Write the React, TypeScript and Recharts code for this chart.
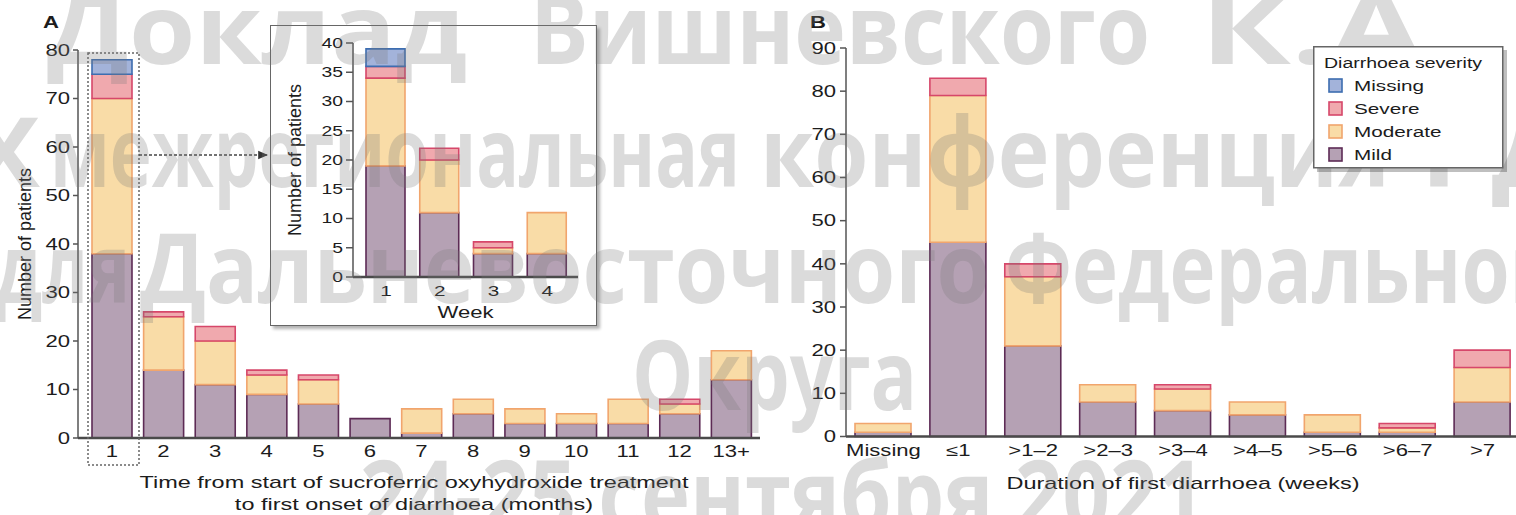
import React from "react";
import { BarChart, Bar, XAxis, YAxis, Label } from "recharts";

// Panel A: months from start of treatment to first diarrhoea
const months = ["1", "2", "3", "4", "5", "6", "7", "8", "9", "10", "11", "12", "13+"];
const monthMild = [38, 14, 11, 9, 7, 4, 1, 5, 3, 3, 3, 5, 12];
const monthModerate = [32, 11, 9, 4, 5, 0, 5, 3, 3, 2, 5, 2, 6];
const monthSevere = [5, 1, 3, 1, 1, 0, 0, 0, 0, 0, 0, 1, 0];
const monthMissing = [3, 0, 0, 0, 0, 0, 0, 0, 0, 0, 0, 0, 0];
const monthTicks = [0, 10, 20, 30, 40, 50, 60, 70, 80];

// Inset: first month split by week
const weeks = ["1", "2", "3", "4"];
const weekMild = [19, 11, 4, 4];
const weekModerate = [15, 9, 1, 7];
const weekSevere = [2, 2, 1, 0];
const weekMissing = [3, 0, 0, 0];
const weekTicks = [0, 5, 10, 15, 20, 25, 30, 35, 40];

// Panel B: duration of first diarrhoea (weeks)
const durations = ["Missing", "≤1", ">1–2", ">2–3", ">3–4", ">4–5", ">5–6", ">6–7", ">7"];
const durationMild = [1, 45, 21, 8, 6, 5, 1, 1, 8];
const durationModerate = [2, 34, 16, 4, 5, 3, 4, 1, 8];
const durationSevere = [0, 4, 3, 0, 1, 0, 0, 1, 4];
const durationMissing = [0, 0, 0, 0, 0, 0, 0, 0, 0];
const durationTicks = [0, 10, 20, 30, 40, 50, 60, 70, 80, 90];

const severities = [
  { key: "mild", name: "Mild", fill: "#b5a1b4", stroke: "#5d2b55" },
  { key: "moderate", name: "Moderate", fill: "#f9dca7", stroke: "#f1a56d" },
  { key: "severe", name: "Severe", fill: "#f0a9ae", stroke: "#d6476a" },
  { key: "missing", name: "Missing", fill: "#a3b3da", stroke: "#3d6db0" },
];

const toRows = (cats: string[], mild: number[], moderate: number[], severe: number[], missing: number[]) =>
  cats.map((cat, i) => ({ cat, mild: mild[i], moderate: moderate[i], severe: severe[i], missing: missing[i] }));

const monthData = toRows(months, monthMild, monthModerate, monthSevere, monthMissing);
const weekData = toRows(weeks, weekMild, weekModerate, weekSevere, weekMissing);
const durationData = toRows(durations, durationMild, durationModerate, durationSevere, durationMissing);

const FONT = "'Liberation Sans', Arial, sans-serif";
const TEXT = "#1c1c1c";
const STRETCH = 1.38;

const yTick = (fs: number) => (p: any) => (
  <text
    transform={`translate(${p.x},${p.y}) scale(${STRETCH},1)`}
    textAnchor="end"
    dy="0.355em"
    fontSize={fs}
    fontFamily={FONT}
    fill={TEXT}
  >
    {p.payload.value}
  </text>
);

const xTick = (fs: number) => (p: any) => (
  <text
    transform={`translate(${p.x},${p.y}) scale(${STRETCH},1)`}
    textAnchor="middle"
    dy="0.71em"
    fontSize={fs}
    fontFamily={FONT}
    fill={TEXT}
  >
    {p.payload.value}
  </text>
);

const yTitle = (x: number, fs: number) => (p: any) => {
  const vb = p.viewBox;
  const cy = vb.y + vb.height / 2;
  return (
    <text transform={`translate(${x},${cy}) rotate(-90)`} textAnchor="middle" dy="0.35em" fontSize={fs} fontFamily={FONT} fill={TEXT}>
      Number of patients
    </text>
  );
};

const xTitle = (lines: string[], dx: number, y0: number, fs: number) => (p: any) => {
  const vb = p.viewBox;
  const cx = vb.x + vb.width / 2 + dx;
  return (
    <g>
      {lines.map((t, i) => (
        <text
          key={t}
          transform={`translate(${cx},${vb.y + y0 + i * 22}) scale(${STRETCH},1)`}
          textAnchor="middle"
          fontSize={fs}
          fontFamily={FONT}
          fill={TEXT}
        >
          {t}
        </text>
      ))}
    </g>
  );
};

const bars = (size: number) =>
  severities.map((s) => (
    <Bar
      key={s.key}
      dataKey={s.key}
      name={s.name}
      stackId="sev"
      fill={s.fill}
      stroke={s.stroke}
      strokeWidth={1.6}
      barSize={size}
      isAnimationActive={false}
    />
  ));

const axisStroke = { stroke: "#555", strokeWidth: 1.5 };
const baseStroke = { stroke: "#4a4a4a", strokeWidth: 2.5 };

// watermark pieces laid over the figure
const watermark = [
  { text: "Доклад", x: 47, y: 64, len: 420 },
  { text: "Вишневского", x: 530, y: 64, len: 620 },
  { text: "К.А.,", x: 1200, y: 64, len: 300 },
  { text: "Х", x: -32, y: 187, len: 72 },
  { text: "межрегиональная", x: 50, y: 187, len: 690 },
  { text: "конференция", x: 760, y: 187, len: 630 },
  { text: "РДО", x: 1420, y: 187, len: 250 },
  { text: "для", x: -5, y: 303, len: 135 },
  { text: "Дальневосточного", x: 140, y: 303, len: 850 },
  { text: "Федерального", x: 1005, y: 303, len: 590 },
  { text: "Округа", x: 632, y: 410, len: 285 },
  { text: "24-25 сентября 2021", x: 360, y: 530, len: 845 },
];

const abs = (left: number, top: number, w: number, h: number): React.CSSProperties => ({
  position: "absolute",
  left,
  top,
  width: w,
  height: h,
});

export default function App() {
  const legendItems = [...severities].reverse();
  return (
    <div style={{ ...abs(0, 0, 1516, 515), overflow: "hidden", background: "#fff", fontFamily: FONT }}>
      {/* Panel A */}
      <div style={abs(0, 0, 770, 515)}>
        <BarChart width={770} height={515} data={monthData} margin={{ top: 50, right: 10, bottom: 47, left: 0 }}>
          <XAxis
            dataKey="cat"
            interval={0}
            height={30}
            tickLine={false}
            tickSize={6}
            tickMargin={2}
            axisLine={baseStroke}
            padding={{ left: 8, right: 3 }}
            tick={xTick(16)}
          >
            <Label
              content={xTitle(
                ["Time from start of sucroferric oxyhydroxide treatment", "to first onset of diarrhoea (months)"],
                -5,
                50,
                17
              )}
            />
          </XAxis>
          <YAxis
            width={78}
            domain={[0, 80]}
            ticks={monthTicks}
            interval={0}
            tickSize={5}
            tickMargin={3}
            axisLine={axisStroke}
            tickLine={axisStroke}
            tick={yTick(16)}
          >
            <Label content={yTitle(25, 18)} />
          </YAxis>
          {bars(40)}
        </BarChart>
      </div>

      {/* Inset: weeks within month 1 */}
      <div
        style={{
          ...abs(270, 25, 327, 301),
          boxSizing: "border-box",
          border: "1.5px solid #666",
          background: "#fff",
          boxShadow: "3px 3px 3px rgba(0,0,0,0.3)",
        }}
      />
      <div style={abs(270, 25, 327, 301)}>
        <BarChart width={327} height={301} data={weekData} margin={{ top: 18, right: 19, bottom: 19, left: 0 }}>
          <XAxis
            dataKey="cat"
            interval={0}
            height={30}
            tickLine={false}
            tickSize={6}
            tickMargin={2}
            axisLine={baseStroke}
            padding={{ left: 6, right: 4 }}
            tick={xTick(15)}
          >
            <Label content={xTitle(["Week"], 0, 41, 16)} />
          </XAxis>
          <YAxis
            width={83}
            domain={[0, 40]}
            ticks={weekTicks}
            interval={0}
            tickSize={7}
            tickMargin={3}
            axisLine={axisStroke}
            tickLine={axisStroke}
            tick={yTick(14)}
          >
            <Label content={yTitle(25, 18)} />
          </YAxis>
          {bars(39)}
        </BarChart>
      </div>

      {/* Panel B */}
      <div style={abs(770, 0, 750, 515)}>
        <BarChart width={750} height={515} data={durationData} margin={{ top: 48, right: 0, bottom: 48, left: 0 }}>
          <XAxis
            dataKey="cat"
            interval={0}
            height={30.5}
            tickLine={false}
            tickSize={6}
            tickMargin={2}
            axisLine={baseStroke}
            tick={xTick(16)}
          >
            <Label content={xTitle(["Duration of first diarrhoea (weeks)"], 0, 52, 17)} />
          </XAxis>
          <YAxis
            width={76}
            domain={[0, 90]}
            ticks={durationTicks}
            interval={0}
            tickSize={6}
            tickMargin={4}
            axisLine={axisStroke}
            tickLine={axisStroke}
            tick={yTick(16)}
          />
          {bars(56)}
        </BarChart>
      </div>

      {/* Panel letters, zoom box and arrow */}
      <svg style={{ ...abs(0, 0, 1516, 515), pointerEvents: "none" }}>
        <defs>
          <marker id="arrowHead" markerWidth="8" markerHeight="8" refX="7" refY="4" orient="auto">
            <path d="M0,1 L7,4 L0,7 Z" fill="#333" />
          </marker>
        </defs>
        <text transform={`translate(43,28) scale(${STRETCH},1)`} fontSize={16} fontWeight="bold" fontFamily={FONT} fill={TEXT}>
          A
        </text>
        <text transform={`translate(810,28) scale(${STRETCH},1)`} fontSize={16} fontWeight="bold" fontFamily={FONT} fill={TEXT}>
          B
        </text>
        <rect x={88} y={53} width={51} height={412} fill="none" stroke="#666" strokeWidth={1.5} strokeDasharray="2 2" />
        <line x1={139} y1={155} x2={268} y2={155} stroke="#444" strokeWidth={1.4} strokeDasharray="3 2" markerEnd="url(#arrowHead)" />
      </svg>

      {/* Watermark */}
      <svg style={{ ...abs(0, 0, 1516, 515), pointerEvents: "none" }}>
        {watermark.map((w) => (
          <text
            key={w.text}
            x={w.x}
            y={w.y}
            textLength={w.len}
            lengthAdjust="spacingAndGlyphs"
            fontSize={96}
            fontWeight={700}
            fontFamily="'Open Sans', 'Noto Sans', sans-serif"
            fill="#7a7a7a"
            fillOpacity={0.27}
          >
            {w.text}
          </text>
        ))}
      </svg>

      {/* Legend */}
      <svg style={{ ...abs(1313, 46, 196, 128), pointerEvents: "none" }}>
        <rect x={4} y={4} width={190} height={122} fill="#000" fillOpacity={0.25} />
        <rect x={0.75} y={0.75} width={189} height={121} fill="#fff" stroke="#666" strokeWidth={1.5} />
        <text transform={`translate(11,22) scale(1.3,1)`} fontSize={15} fontFamily={FONT} fill={TEXT}>
          Diarrhoea severity
        </text>
        {legendItems.map((s, i) => (
          <g key={s.key}>
            <rect x={16} y={33 + i * 23} width={13} height={13} fill={s.fill} stroke={s.stroke} strokeWidth={1.6} />
            <text transform={`translate(41,${45 + i * 23}) scale(${STRETCH},1)`} fontSize={15} fontFamily={FONT} fill={TEXT}>
              {s.name}
            </text>
          </g>
        ))}
      </svg>
    </div>
  );
}
